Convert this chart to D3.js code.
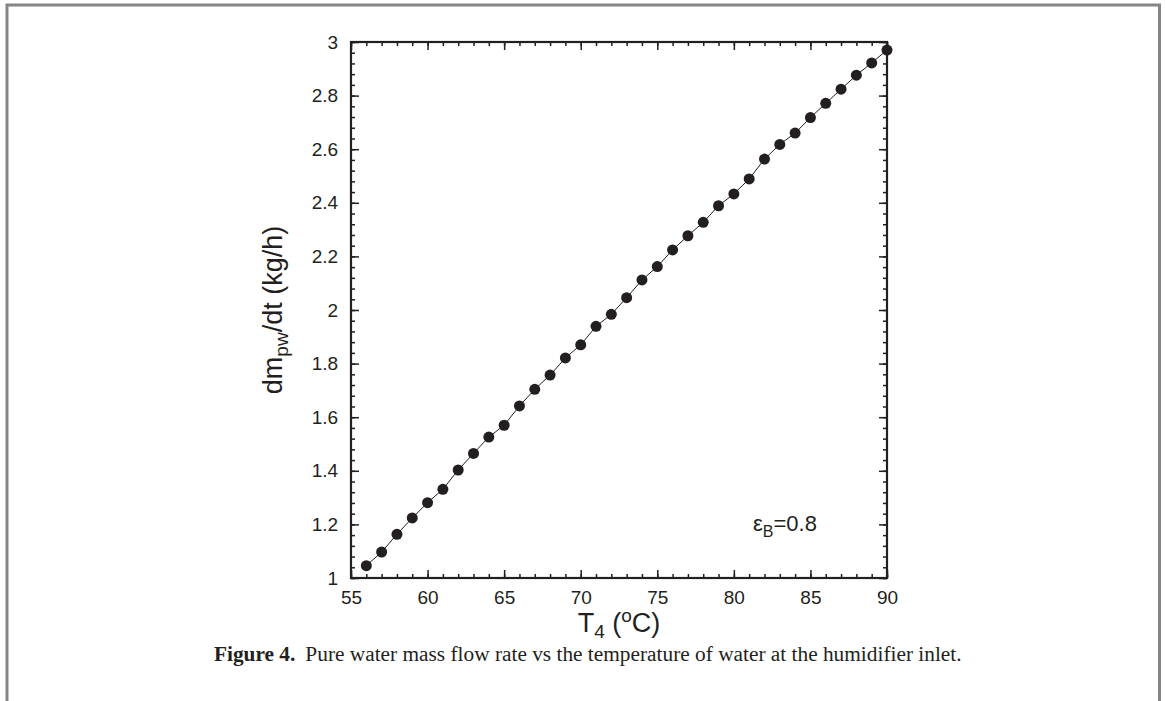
<!DOCTYPE html>
<html><head><meta charset="utf-8">
<script src="https://cdn.jsdelivr.net/npm/d3@7"></script>
<style>body{margin:0;background:#fff}svg{display:block}</style>
</head><body>
<svg id="c" width="1165" height="701"></svg>
<script>
const temps = [56,57,58,59,60,61,62,63,64,65,66,67,68,69,70,71,72,73,74,75,76,77,78,79,80,81,82,83,84,85,86,87,88,89,90];
const flow = [1.046,1.097,1.163,1.224,1.281,1.331,1.403,1.465,1.526,1.570,1.642,1.704,1.757,1.821,1.870,1.939,1.984,2.046,2.112,2.162,2.224,2.277,2.327,2.389,2.433,2.489,2.563,2.618,2.660,2.718,2.771,2.824,2.876,2.922,2.970];
const xTicks = [55,60,65,70,75,80,85,90];
const yTicks = [1,1.2,1.4,1.6,1.8,2,2.2,2.4,2.6,2.8,3];
const xDomain = [55,90], yDomain = [1,3];

const svg = d3.select("#c");
const ink = "#231f20";
const sans = "Liberation Sans, Arial, sans-serif";
// frame
svg.append("path").attr("d","M7,701 V5 H1159.5 V701").attr("fill","none").attr("stroke","#858585").attr("stroke-width",3);

const L=351, R=887, T=42, B=578;
const x = d3.scaleLinear().domain(xDomain).range([L,R]);
const y = d3.scaleLinear().domain(yDomain).range([B,T]);

const xMinor = d3.range(55,91,1), yMinor = d3.range(0,51).map(i=>+(1+i*0.04).toFixed(2));
function ticks(mk, tr, maj, min){
  const g1 = svg.append("g").attr("transform",tr).call(mk().tickValues(min).tickSize(-4).tickFormat(""));
  const g2 = svg.append("g").attr("transform",tr).call(mk().tickValues(maj).tickSize(-8).tickPadding(12).tickFormat(d3.format("~g")));
  [g1,g2].forEach(g=>{g.select(".domain").remove();g.selectAll("line").attr("stroke",ink).attr("stroke-width",1.5);});
  g2.selectAll("text").attr("font-family",sans).attr("font-size",19).attr("fill",ink);
  return g2;
}
const gb = ticks(()=>d3.axisBottom(x), `translate(0,${B})`, xTicks, xMinor);
gb.selectAll("text").attr("dy","0.75em");
const gt = ticks(()=>d3.axisTop(x), `translate(0,${T})`, xTicks, xMinor);
gt.selectAll("text").remove();
const gl = ticks(()=>d3.axisLeft(y), `translate(${L},0)`, yTicks, yMinor);
gl.selectAll("text").attr("dx","-0.05em");
const gr = ticks(()=>d3.axisRight(y), `translate(${R},0)`, yTicks, yMinor);
gr.selectAll("text").remove();

svg.append("rect").attr("x",L).attr("y",T).attr("width",R-L).attr("height",B-T).attr("fill","none").attr("stroke",ink).attr("stroke-width",2.2);

// line and points
const pts = temps.map((t,i)=>[t,flow[i]]);
svg.append("path").datum(pts)
  .attr("d",d3.line().x(d=>x(d[0])).y(d=>y(d[1])))
  .attr("fill","none").attr("stroke",ink).attr("stroke-width",1);
svg.append("g").selectAll("circle").data(pts).join("circle")
  .attr("cx",d=>x(d[0])).attr("cy",d=>y(d[1])).attr("r",5.5).attr("fill",ink);

// axis titles
const xt = svg.append("text").attr("x",(L+R)/2).attr("y",632).attr("text-anchor","middle")
  .attr("font-family",sans).attr("font-size",27).attr("fill",ink);
xt.append("tspan").text("T");
xt.append("tspan").attr("font-size",19).attr("dy",6).text("4");
xt.append("tspan").attr("dy",-6).text(" (");
xt.append("tspan").attr("font-size",19).attr("dy",-10).text("o");
xt.append("tspan").attr("dy",10).text("C)");

const yt = svg.append("text").attr("transform",`translate(282,${(T+B)/2}) rotate(-90)`).attr("text-anchor","middle")
  .attr("font-family",sans).attr("font-size",27).attr("fill",ink);
yt.append("tspan").text("dm");
yt.append("tspan").attr("font-size",19).attr("dy",6).text("pw");
yt.append("tspan").attr("dy",-6).text("/dt (kg/h)");

const an = svg.append("text").attr("x",753).attr("y",531).attr("font-family",sans).attr("font-size",22).attr("fill",ink);
an.append("tspan").text("ε");
an.append("tspan").attr("font-size",16).attr("dy",6).text("B");
an.append("tspan").attr("dy",-6).text("=0.8");

// caption
const cap = svg.append("text").attr("x",214).attr("y",661).attr("font-family","Liberation Serif, Times New Roman, serif").attr("font-size",20).attr("fill",ink);
cap.append("tspan").attr("font-weight","bold").text("Figure 4.");
cap.append("tspan").attr("dx",10).text("Pure water mass flow rate vs the temperature of water at the humidifier inlet.");
const w = cap.node().getComputedTextLength();
cap.attr("font-size", 20*738/w);
</script>
</body></html>
